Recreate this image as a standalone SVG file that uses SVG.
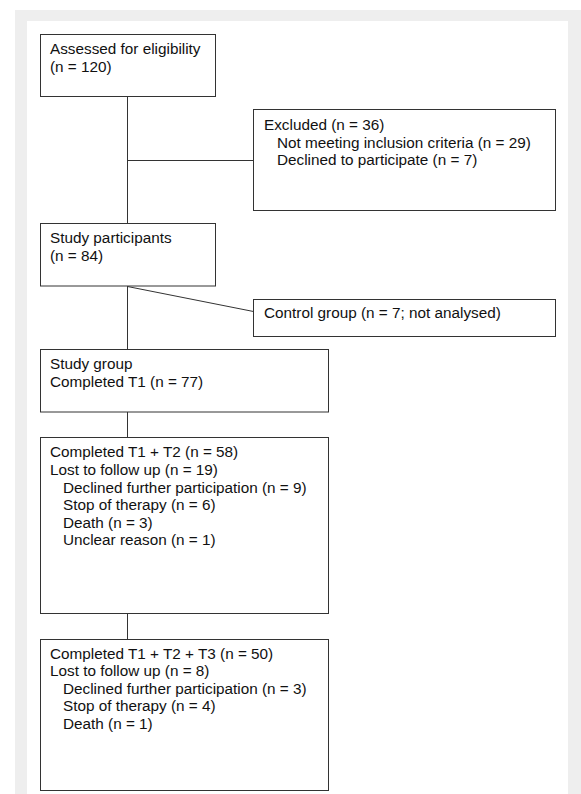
<svg xmlns="http://www.w3.org/2000/svg" width="581" height="794" viewBox="0 0 581 794">
<style>
.box{fill:#ffffff;stroke:#333333;stroke-width:1}
.conn{stroke:#333333;stroke-width:1;fill:none}
text{font-family:"Liberation Sans",Arial,sans-serif;font-size:15.3px;fill:#111111}
</style>
<rect x="15" y="10" width="566" height="784" fill="#eeeeee"/>
<rect x="27" y="21" width="541" height="773" fill="#ffffff"/>
<g id="connectors">
<line class="conn" x1="127.5" y1="96.5" x2="127.5" y2="223.5"/>
<line class="conn" x1="127.5" y1="160.5" x2="253.5" y2="160.5"/>
<line class="conn" x1="127.5" y1="286" x2="127.5" y2="349.5"/>
<line class="conn" x1="127.5" y1="286.5" x2="253.5" y2="311.5"/>
<line class="conn" x1="127.5" y1="412" x2="127.5" y2="437.5"/>
<line class="conn" x1="127.5" y1="613.5" x2="127.5" y2="639.5"/>
</g>
<g id="assessed">
<rect class="box" x="40.5" y="34.5" width="175" height="62"/>
<text x="50" y="54.2">Assessed for eligibility</text>
<text x="50" y="71.8">(n = 120)</text>
</g>
<g id="excluded">
<rect class="box" x="253.5" y="109.5" width="302" height="101"/>
<text x="264" y="130">Excluded (n = 36)</text>
<text x="277" y="147.6">Not meeting inclusion criteria (n = 29)</text>
<text x="277" y="165.2">Declined to participate (n = 7)</text>
</g>
<g id="participants">
<rect class="box" x="40.5" y="223.5" width="175" height="62.5"/>
<text x="50" y="243.3">Study participants</text>
<text x="50" y="260.9">(n = 84)</text>
</g>
<g id="control">
<rect class="box" x="253.5" y="299.5" width="302" height="37"/>
<text x="264" y="318.4">Control group (n = 7; not analysed)</text>
</g>
<g id="studygroup">
<rect class="box" x="40.5" y="349.5" width="288" height="62.5"/>
<text x="50" y="369.3">Study group</text>
<text x="50" y="386.9">Completed T1 (n = 77)</text>
</g>
<g id="t2">
<rect class="box" x="40.5" y="437.5" width="288" height="176"/>
<text x="50" y="457.3">Completed T1 + T2 (n = 58)</text>
<text x="50" y="474.9">Lost to follow up (n = 19)</text>
<text x="63" y="492.5">Declined further participation (n = 9)</text>
<text x="63" y="510.1">Stop of therapy (n = 6)</text>
<text x="63" y="527.7">Death (n = 3)</text>
<text x="63" y="545.3">Unclear reason (n = 1)</text>
</g>
<g id="t3">
<rect class="box" x="40.5" y="639.5" width="288" height="151"/>
<text x="50" y="658.6">Completed T1 + T2 + T3 (n = 50)</text>
<text x="50" y="676.2">Lost to follow up (n = 8)</text>
<text x="63" y="693.8">Declined further participation (n = 3)</text>
<text x="63" y="711.4">Stop of therapy (n = 4)</text>
<text x="63" y="729">Death (n = 1)</text>
</g>
</svg>
